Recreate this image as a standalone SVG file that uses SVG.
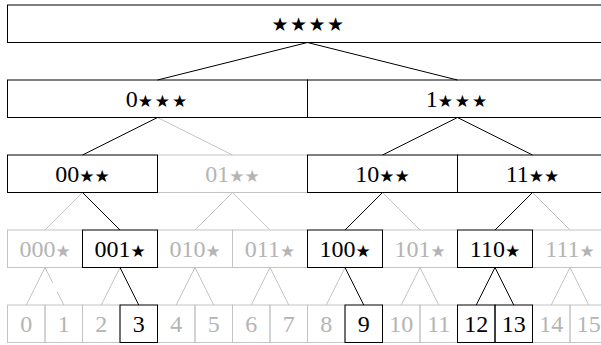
<svg xmlns="http://www.w3.org/2000/svg" width="601" height="345" viewBox="0 0 601 345">
<style>
rect{fill:none;stroke-width:1}
.k rect{stroke:#000}
.g rect{stroke:#c4c4c4}
text{font-family:"Liberation Serif",serif;font-size:24px;text-anchor:middle}
.k text{fill:#000}
.g text{fill:#b4b4b4}
.s{font-family:"DejaVu Sans",sans-serif;font-size:17px}
.s0{font-family:"DejaVu Sans",sans-serif;font-size:19px;letter-spacing:1.5px}
.s1{font-family:"DejaVu Sans",sans-serif;font-size:17px;letter-spacing:2px}
#edges line{stroke-width:1}
.ek{stroke:#000}
.eg{stroke:#c4c4c4}
.ed{stroke:#c4c4c4;stroke-dasharray:17 10}
</style>
<g id="edges">
<line class="ek" x1="307.5" y1="42.5" x2="157.5" y2="80"/>
<line class="ek" x1="307.5" y1="42.5" x2="457.5" y2="80"/>
<line class="ek" x1="157.5" y1="117.5" x2="82.5" y2="155"/>
<line class="eg" x1="157.5" y1="117.5" x2="232.5" y2="155"/>
<line class="ek" x1="457.5" y1="117.5" x2="382.5" y2="155"/>
<line class="ek" x1="457.5" y1="117.5" x2="532.5" y2="155"/>
<line class="eg" x1="82.5" y1="192.5" x2="45" y2="230"/>
<line class="ek" x1="82.5" y1="192.5" x2="120" y2="230"/>
<line class="eg" x1="232.5" y1="192.5" x2="195" y2="230"/>
<line class="eg" x1="232.5" y1="192.5" x2="270" y2="230"/>
<line class="ek" x1="382.5" y1="192.5" x2="345" y2="230"/>
<line class="eg" x1="382.5" y1="192.5" x2="420" y2="230"/>
<line class="ek" x1="532.5" y1="192.5" x2="495" y2="230"/>
<line class="eg" x1="532.5" y1="192.5" x2="570" y2="230"/>
<line class="eg" x1="45" y1="267.5" x2="26.25" y2="305"/>
<line class="ed" x1="45" y1="267.5" x2="63.75" y2="305"/>
<line class="eg" x1="120" y1="267.5" x2="101.25" y2="305"/>
<line class="ek" x1="120" y1="267.5" x2="138.75" y2="305"/>
<line class="eg" x1="195" y1="267.5" x2="176.25" y2="305"/>
<line class="eg" x1="195" y1="267.5" x2="213.75" y2="305"/>
<line class="eg" x1="270" y1="267.5" x2="251.25" y2="305"/>
<line class="eg" x1="270" y1="267.5" x2="288.75" y2="305"/>
<line class="eg" x1="345" y1="267.5" x2="326.25" y2="305"/>
<line class="ek" x1="345" y1="267.5" x2="363.75" y2="305"/>
<line class="eg" x1="420" y1="267.5" x2="401.25" y2="305"/>
<line class="eg" x1="420" y1="267.5" x2="438.75" y2="305"/>
<line class="ek" x1="495" y1="267.5" x2="476.25" y2="305"/>
<line class="ek" x1="495" y1="267.5" x2="513.75" y2="305"/>
<line class="eg" x1="570" y1="267.5" x2="551.25" y2="305"/>
<line class="eg" x1="570" y1="267.5" x2="588.75" y2="305"/>
</g>
<g id="n01" class="g"><rect x="157.5" y="155" width="150" height="37.5"/><text x="232.5" y="182">01<tspan class="s">★★</tspan></text></g>
<g id="n000" class="g"><rect x="7.5" y="230" width="75" height="37.5"/><text x="45" y="257">000<tspan class="s">★</tspan></text></g>
<g id="n010" class="g"><rect x="157.5" y="230" width="75" height="37.5"/><text x="195" y="257">010<tspan class="s">★</tspan></text></g>
<g id="n011" class="g"><rect x="232.5" y="230" width="75" height="37.5"/><text x="270" y="257">011<tspan class="s">★</tspan></text></g>
<g id="n101" class="g"><rect x="382.5" y="230" width="75" height="37.5"/><text x="420" y="257">101<tspan class="s">★</tspan></text></g>
<g id="n111" class="g"><rect x="532.5" y="230" width="75" height="37.5"/><text x="570" y="257">111<tspan class="s">★</tspan></text></g>
<g id="l0" class="g"><rect x="7.5" y="305" width="37.5" height="37.5"/><text x="26.25" y="332">0</text></g>
<g id="l1" class="g"><rect x="45" y="305" width="37.5" height="37.5"/><text x="63.75" y="332">1</text></g>
<g id="l2" class="g"><rect x="82.5" y="305" width="37.5" height="37.5"/><text x="101.25" y="332">2</text></g>
<g id="l4" class="g"><rect x="157.5" y="305" width="37.5" height="37.5"/><text x="176.25" y="332">4</text></g>
<g id="l5" class="g"><rect x="195" y="305" width="37.5" height="37.5"/><text x="213.75" y="332">5</text></g>
<g id="l6" class="g"><rect x="232.5" y="305" width="37.5" height="37.5"/><text x="251.25" y="332">6</text></g>
<g id="l7" class="g"><rect x="270" y="305" width="37.5" height="37.5"/><text x="288.75" y="332">7</text></g>
<g id="l8" class="g"><rect x="307.5" y="305" width="37.5" height="37.5"/><text x="326.25" y="332">8</text></g>
<g id="l10" class="g"><rect x="382.5" y="305" width="37.5" height="37.5"/><text x="401.25" y="332">10</text></g>
<g id="l11" class="g"><rect x="420" y="305" width="37.5" height="37.5"/><text x="438.75" y="332">11</text></g>
<g id="l14" class="g"><rect x="532.5" y="305" width="37.5" height="37.5"/><text x="551.25" y="332">14</text></g>
<g id="l15" class="g"><rect x="570" y="305" width="37.5" height="37.5"/><text x="588.75" y="332">15</text></g>
<g id="root" class="k"><rect x="7.5" y="5" width="600" height="37.5"/><text x="308.5" y="31" class="s0">★★★★</text></g>
<g id="n0" class="k"><rect x="7.5" y="80" width="300" height="37.5"/><text x="157.5" y="107">0<tspan class="s1">★★★</tspan></text></g>
<g id="n1" class="k"><rect x="307.5" y="80" width="300" height="37.5"/><text x="457.5" y="107">1<tspan class="s1">★★★</tspan></text></g>
<g id="n00" class="k"><rect x="7.5" y="155" width="150" height="37.5"/><text x="82.5" y="182">00<tspan class="s">★★</tspan></text></g>
<g id="n10" class="k"><rect x="307.5" y="155" width="150" height="37.5"/><text x="382.5" y="182">10<tspan class="s">★★</tspan></text></g>
<g id="n11" class="k"><rect x="457.5" y="155" width="150" height="37.5"/><text x="532.5" y="182">11<tspan class="s">★★</tspan></text></g>
<g id="n001" class="k"><rect x="82.5" y="230" width="75" height="37.5"/><text x="120" y="257">001<tspan class="s">★</tspan></text></g>
<g id="n100" class="k"><rect x="307.5" y="230" width="75" height="37.5"/><text x="345" y="257">100<tspan class="s">★</tspan></text></g>
<g id="n110" class="k"><rect x="457.5" y="230" width="75" height="37.5"/><text x="495" y="257">110<tspan class="s">★</tspan></text></g>
<g id="l3" class="k"><rect x="120" y="305" width="37.5" height="37.5"/><text x="138.75" y="332">3</text></g>
<g id="l9" class="k"><rect x="345" y="305" width="37.5" height="37.5"/><text x="363.75" y="332">9</text></g>
<g id="l12" class="k"><rect x="457.5" y="305" width="37.5" height="37.5"/><text x="476.25" y="332">12</text></g>
<g id="l13" class="k"><rect x="495" y="305" width="37.5" height="37.5"/><text x="513.75" y="332">13</text></g>
</svg>
